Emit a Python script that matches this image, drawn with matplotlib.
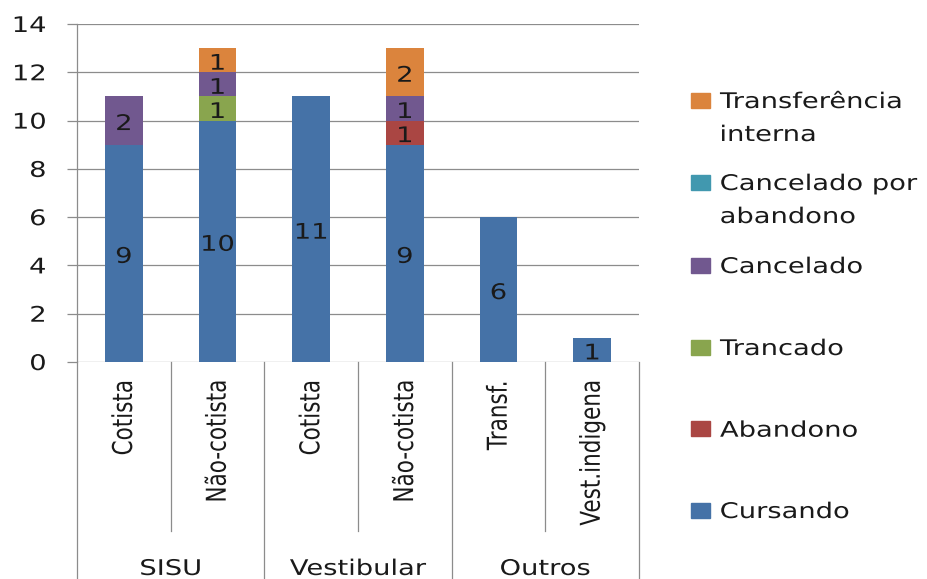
import textwrap

import matplotlib
matplotlib.use("Agg")
import matplotlib.pyplot as plt
import numpy as np
from matplotlib import patheffects
from matplotlib.patches import Rectangle
from matplotlib.transforms import Affine2D, blended_transform_factory

# ---------------------------------------------------------------- data
categories = ["Cotista", "Não-cotista", "Cotista", "Não-cotista", "Transf.", "Vest.indigena"]
group_names = ["SISU", "Vestibular", "Outros"]
group_sizes = [2, 2, 2]

series_names = ["Cursando", "Abandono", "Trancado", "Cancelado",
                "Cancelado por abandono", "Transferência interna"]
cursando = [9, 10, 11, 9, 6, 1]
abandono = [0, 0, 0, 1, 0, 0]
trancado = [0, 1, 0, 0, 0, 0]
cancelado = [2, 1, 0, 1, 0, 0]
cancelado_abandono = [0, 0, 0, 0, 0, 0]
transferencia = [0, 1, 0, 2, 0, 0]
series_values = [cursando, abandono, trancado, cancelado, cancelado_abandono, transferencia]

y_ticks = [0, 2, 4, 6, 8, 10, 12, 14]

# ---------------------------------------------------------------- style
colors = ["#4572A7", "#AA4643", "#89A54E", "#71588F", "#4198AF", "#DB843D"]
GRAY = "#8c8c8c"
TEXT = "#1a1a1a"
FS = 15.5          # font size in points
SX = 1.27          # horizontal widening of the lettering


class Widen(patheffects.AbstractPathEffect):
    """Stretch glyph outlines horizontally (in screen space) around an anchor."""

    def __init__(self, factor, anchor="center"):
        super().__init__()
        self.factor = factor
        self.anchor = anchor

    def draw_path(self, renderer, gc, tpath, affine, rgbFace=None):
        bb = tpath.get_extents(affine)
        if self.anchor == "left":
            cx = bb.x0
        elif self.anchor == "right":
            cx = bb.x1
        else:
            cx = 0.5 * (bb.x0 + bb.x1)
        t = affine + Affine2D().translate(-cx, 0).scale(self.factor, 1).translate(cx, 0)
        renderer.draw_path(gc, tpath, t, rgbFace)


plt.rcParams["font.family"] = ["DejaVu Sans"]

W, H = 927, 579
fig = plt.figure(figsize=(W / 100, H / 100), dpi=100)
ax = fig.add_axes([77 / W, 1 - 362 / H, (639 - 77) / W, (362 - 24) / H])

x = np.arange(len(categories))
bottom = np.zeros(len(categories))
for name, vals, col in zip(series_names, series_values, colors):
    vals = np.asarray(vals, dtype=float)
    bars = ax.bar(x, vals, 0.4, bottom=bottom, color=col, label=name, zorder=2)
    labels = [f"{v:g}" if v else "" for v in vals]
    ax.bar_label(bars, labels=labels, label_type="center", padding=-2.5,
                 fontsize=FS, color=TEXT, path_effects=[Widen(SX)])
    bottom += vals

ax.set_xlim(-0.5, len(categories) - 0.5)
ax.set_ylim(0, 14)

# y axis
ax.set_yticks(y_ticks)
ax.yaxis.grid(True, color=GRAY, linewidth=0.9, zorder=0)
ax.set_axisbelow(True)
ax.tick_params(axis="y", length=7.2, width=0.9, color=GRAY, pad=15,
               labelsize=FS, labelcolor=TEXT)
for lbl in ax.get_yticklabels():
    lbl.set_path_effects([Widen(SX, "right")])

for side in ("top", "right", "bottom"):
    ax.spines[side].set_visible(False)
ax.spines["left"].set_color(GRAY)
ax.spines["left"].set_linewidth(0.9)

# x axis: category labels
ax.set_xticks(x, categories, rotation=90)
ax.tick_params(axis="x", length=0, pad=13, labelsize=FS, labelcolor=TEXT)
for lbl in ax.get_xticklabels():
    lbl.set_path_effects([Widen(SX, "center")])

# separators and group labels below the axis
trans = blended_transform_factory(ax.transData, ax.transAxes)
edges = np.concatenate([[0], np.cumsum(group_sizes)]) - 0.5
for xe in np.arange(-0.5, len(categories)):
    is_group = np.any(np.isclose(edges, xe))
    y_end = -0.75 if is_group else -0.5
    ax.plot([xe, xe], [0, y_end], transform=trans, color=GRAY, lw=0.9,
            clip_on=False, zorder=1)
for name, lo, hi in zip(group_names, edges[:-1], edges[1:]):
    ax.text(0.5 * (lo + hi), -0.630, name, transform=trans, ha="center",
            va="baseline", fontsize=FS, color=TEXT, path_effects=[Widen(SX)])

# legend (top entry = last series)
legend_centers = [510, 428.7, 347, 265, 182, 100]   # px from top, Cursando first
for name, col, yc in zip(series_names, colors, legend_centers):
    fig.patches.append(Rectangle((691 / W, 1 - (yc + 7.5) / H), 19 / W, 15 / H,
                                 transform=fig.transFigure, color=col))
    for k, line in enumerate(textwrap.fill(name, 13).split("\n")):
        fig.text(720 / W, 1 - (yc + 8 + 33 * k) / H, line, ha="left",
                 va="baseline", fontsize=FS, color=TEXT,
                 path_effects=[Widen(SX, "left")])

fig.savefig("out.png", dpi=100)
